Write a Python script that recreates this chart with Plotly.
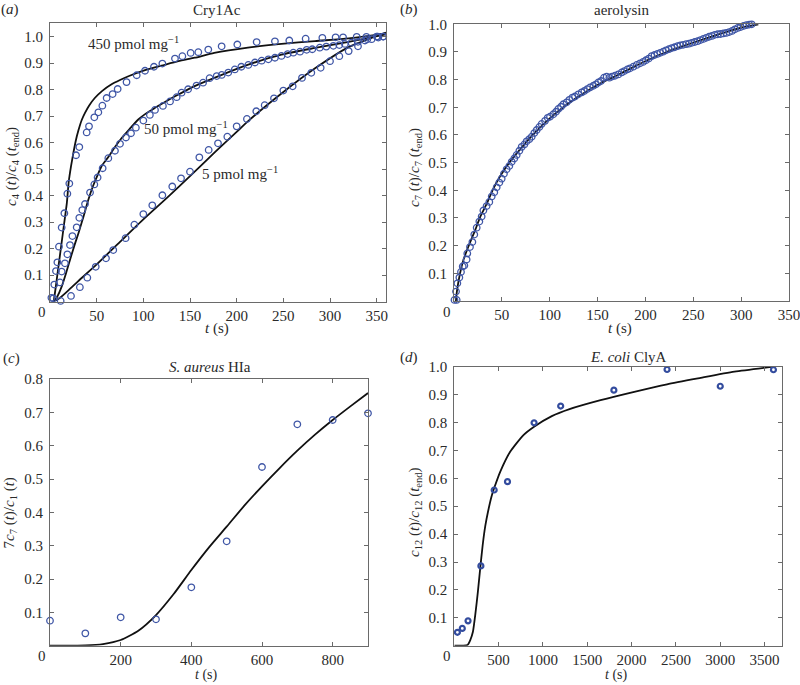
import plotly.graph_objects as go

W, H = 800, 685
FONT = "Liberation Serif, Times New Roman, Times, serif"
BLUE = "#3f56a6"
LINE = "#111111"
FRAME = "#6a6a6a"
TXT = "#2a2a2a"

# ---------------- panel (a) Cry1Ac ----------------
a450_t = [1.5, 4.6, 6.4, 7.9, 9.6, 12.5, 15.4, 18.6, 20.7, 27.9, 31.4, 39.3, 41.8, 47.5, 51.8,
          56.1, 60.7, 67.1, 72.5, 82, 92.9, 101.8, 111.4, 120.4, 133.9, 141.8, 150.7, 158.9,
          169.6, 183.9, 200.7, 221.4, 241, 256.4, 273.9, 291.8, 306, 314, 328.6, 339, 351, 357]
a450_v = [0.014, 0.064, 0.115, 0.148, 0.207, 0.279, 0.333, 0.407, 0.445, 0.552, 0.583, 0.638,
          0.661, 0.695, 0.714, 0.739, 0.768, 0.783, 0.802, 0.828, 0.854, 0.871, 0.886, 0.898,
          0.917, 0.926, 0.938, 0.941, 0.951, 0.963, 0.970, 0.979, 0.982, 0.985, 0.992, 0.995,
          0.997, 0.997, 0.999, 0.999, 1.0, 1.0]
a50_t = [3.5, 10.7, 12.5, 16, 18.6, 21.4, 24, 28.6, 31.4, 34.6, 37.5, 42.9, 47.5, 51, 56.4,
         62.5, 69.6, 75, 81.4, 86.8, 92, 100, 107, 112.5, 121, 128.6, 135.7, 141, 148, 157,
         164, 171, 178.6, 184, 191, 198, 205, 212.5, 219.6, 226.8, 234, 241, 248, 254.6,
         260.7, 267.9, 275, 281, 289, 296, 303.6, 310, 316, 323, 330, 337.5, 344.6, 351.8, 357]
a50_v = [0.012, 0.072, 0.113, 0.144, 0.178, 0.213, 0.247, 0.280, 0.316, 0.345, 0.368, 0.411,
         0.442, 0.468, 0.503, 0.541, 0.569, 0.595, 0.619, 0.635, 0.656, 0.683, 0.704, 0.723,
         0.738, 0.755, 0.771, 0.788, 0.801, 0.815, 0.826, 0.843, 0.851, 0.855, 0.864, 0.876,
         0.886, 0.893, 0.902, 0.909, 0.914, 0.920, 0.927, 0.934, 0.939, 0.943, 0.950, 0.952,
         0.958, 0.962, 0.965, 0.968, 0.972, 0.977, 0.980, 0.985, 0.990, 0.996, 1.0]
a5_t = [11.4, 22.5, 32, 40, 49, 60, 67.8, 81, 90.4, 100, 109.6, 120.4, 131, 140.4, 150, 160,
        170, 180, 190, 200, 211, 221, 230, 240, 250, 260, 270, 280, 290, 300, 310, 320, 330,
        340, 350]
a5_v = [0.002, 0.021, 0.054, 0.090, 0.131, 0.163, 0.194, 0.239, 0.290, 0.330, 0.363, 0.401,
        0.434, 0.465, 0.490, 0.544, 0.572, 0.597, 0.622, 0.661, 0.689, 0.718, 0.741, 0.767,
        0.796, 0.812, 0.844, 0.863, 0.882, 0.907, 0.926, 0.945, 0.963, 0.990, 1.0]

fit450_t = [4, 6, 9, 12, 15, 18, 20, 22.5, 25, 27.5, 30.4, 34, 37.5, 42, 48, 56, 66, 75, 84,
            101.8, 119.6, 137.5, 155, 176, 212, 248, 284, 320, 360]
fit450_v = [0, 0.05, 0.131, 0.21, 0.29, 0.37, 0.45, 0.51, 0.56, 0.605, 0.645, 0.685, 0.712,
            0.74, 0.768, 0.795, 0.82, 0.836, 0.85, 0.873, 0.89, 0.907, 0.92, 0.938, 0.958,
            0.972, 0.983, 0.993, 1.012]
fit50_t = [4, 8, 12.5, 17, 21.4, 26, 30.4, 35, 41, 46, 51.8, 56, 62.5, 70, 76.8, 85, 94.6,
           103, 112.5, 125, 137.5, 155, 176.8, 212.5, 248, 284, 320, 360]
fit50_v = [0, 0.02, 0.056, 0.105, 0.157, 0.21, 0.257, 0.31, 0.383, 0.435, 0.484, 0.515,
           0.545, 0.585, 0.617, 0.65, 0.687, 0.71, 0.731, 0.757, 0.781, 0.813, 0.845, 0.894,
           0.932, 0.957, 0.98, 1.008]
fit5_t = [4, 10, 20, 30, 50, 75, 100, 125, 150, 177, 200, 212, 248, 284, 320, 360]
fit5_v = [0, 0.012, 0.043, 0.076, 0.14, 0.225, 0.31, 0.39, 0.473, 0.565, 0.64, 0.68, 0.785,
          0.88, 0.96, 1.015]

# ---------------- panel (b) aerolysin ----------------
b_t = [0.5, 2.8, 2.1, 3.5, 5.6, 7.3, 9.1, 10.8, 13.2, 13.9, 16.7, 19.2, 21.2, 23.7, 26.5,
       28.9, 30.7, 34.1, 36.9, 39.4, 42.1, 44.6, 47.4, 49.8, 52.2, 55, 57.8, 60.3, 63, 65.5,
       68.3, 70.7, 73.5, 75.9, 78.7, 81.2, 83.9, 86.4, 89.2, 91.6, 95.1, 97.9, 100.3, 103.8,
       106.6, 109, 111.8, 114.2, 117.7, 120.5, 123.7, 126.4, 129.9, 133.4, 136.2, 139.3,
       142.1, 145.6, 148.4, 150.8, 153.6, 156.7, 159.5, 162.3, 165.1, 168.2, 171.7, 175.2,
       178, 181.1, 183.9, 187.4, 190.9, 194.4,
       197.5, 200.5, 203.5, 206.5, 209.5, 212.5, 215.5, 218.5, 221.5, 224.5, 227.5, 230.5,
       233.5, 236.5, 239.5, 242.5, 245.5, 248.5, 251.5, 254.5, 257.5, 260.5, 263.5, 266.5,
       269.5, 272.5, 275.5, 278.5, 281.5, 284.5, 287.5, 290.5, 293.5, 296.5, 299.5, 302.5,
       305.5, 308.5, 311]
b_v = [0.004, 0.004, 0.034, 0.064, 0.085, 0.105, 0.125, 0.128, 0.150, 0.172, 0.195, 0.213,
       0.240, 0.265, 0.287, 0.305, 0.327, 0.343, 0.358, 0.378, 0.393, 0.411, 0.428, 0.442,
       0.460, 0.476, 0.488, 0.503, 0.515, 0.528, 0.543, 0.557, 0.566, 0.577, 0.585, 0.594,
       0.607, 0.618, 0.629, 0.640, 0.651, 0.662, 0.666, 0.675, 0.684, 0.694, 0.702, 0.711,
       0.718, 0.727, 0.735, 0.739, 0.747, 0.754, 0.759, 0.766, 0.772, 0.778, 0.783, 0.790,
       0.795, 0.807, 0.811, 0.807, 0.811, 0.814, 0.819, 0.826, 0.831, 0.837, 0.841, 0.847,
       0.853, 0.859,
       0.864, 0.870, 0.876, 0.885, 0.889, 0.893, 0.897, 0.901, 0.906, 0.910, 0.914, 0.917,
       0.921, 0.924, 0.926, 0.928, 0.930, 0.933, 0.936, 0.939, 0.943, 0.947, 0.951, 0.955,
       0.958, 0.962, 0.964, 0.965, 0.967, 0.969, 0.972, 0.976, 0.982, 0.987, 0.990, 0.994,
       0.997, 0.999, 1.0]
fitb_t = [2, 3, 6.3, 10, 16, 22, 27.5, 34, 41, 48, 60, 72, 85, 100, 118, 135, 155, 170, 187,
          203, 222, 240, 257, 273, 292, 307, 318]
fitb_v = [0.0, 0.034, 0.1, 0.15, 0.205, 0.255, 0.305, 0.35, 0.405, 0.45, 0.51, 0.56, 0.61,
          0.66, 0.71, 0.75, 0.79, 0.815, 0.845, 0.872, 0.9, 0.922, 0.942, 0.96, 0.98, 0.993, 1.0]

# ---------------- panel (c) S. aureus HIa ----------------
c_t = [0, 100, 200, 300, 400, 500, 600, 700, 800, 900]
c_v = [0.075, 0.037, 0.085, 0.079, 0.175, 0.313, 0.536, 0.664, 0.677, 0.697]
fitc_t = [0, 100, 150, 200, 250, 300, 350, 400, 450, 500, 550, 600, 650, 700, 750, 800, 850, 900]
fitc_v = [0, 0.001, 0.005, 0.017, 0.045, 0.092, 0.155, 0.227, 0.295, 0.357, 0.42, 0.478,
          0.533, 0.585, 0.633, 0.677, 0.718, 0.758]

# ---------------- panel (d) E. coli ClyA ----------------
d_t = [35, 90, 155, 300, 450, 600, 900, 1200, 1800, 2400, 3000, 3600]
d_v = [0.048, 0.062, 0.089, 0.286, 0.558, 0.588, 0.799, 0.859, 0.916, 0.990, 0.930, 0.989]
fitd_t = [0, 100, 150, 180, 210, 240, 265, 290, 320, 350, 380, 420, 450, 520, 630, 780, 900,
          1100, 1300, 1650, 2030, 2400, 2780, 3160, 3600]
fitd_v = [0, 0, 0.003, 0.02, 0.05, 0.12, 0.19, 0.27, 0.36, 0.43, 0.48, 0.535, 0.565, 0.625,
          0.695, 0.755, 0.785, 0.823, 0.848, 0.88, 0.91, 0.937, 0.96, 0.982, 1.0]

# tick labels
a_xticks = [50, 100, 150, 200, 250, 300, 350]
b_xticks = [50, 100, 150, 200, 250, 300, 350]
c_xticks = [200, 400, 600, 800]
d_xticks = [500, 1000, 1500, 2000, 2500, 3000, 3500]
y10 = [0.1, 0.2, 0.3, 0.4, 0.5, 0.6, 0.7, 0.8, 0.9, 1.0]
y08 = [0.1, 0.2, 0.3, 0.4, 0.5, 0.6, 0.7, 0.8]

fig = go.Figure()


def px_x(p):
    return p / W


def px_y(p):
    return 1 - p / H


def add_pts(t, v, ax, size=6.5, lw=1.3, color=BLUE):
    fig.add_trace(go.Scatter(x=t, y=v, mode="markers", xaxis="x" + ax, yaxis="y" + ax,
                             cliponaxis=False,
                             marker=dict(symbol="circle-open", size=size, color=color,
                                         line=dict(width=lw, color=color)),
                             showlegend=False, hoverinfo="skip"))


def add_fit(t, v, ax):
    fig.add_trace(go.Scatter(x=t, y=v, mode="lines", xaxis="x" + ax, yaxis="y" + ax,
                             line=dict(color=LINE, width=1.8, shape="spline", smoothing=0.6),
                             showlegend=False, hoverinfo="skip"))


for t, v in [(fit450_t, fit450_v), (fit50_t, fit50_v), (fit5_t, fit5_v)]:
    add_fit(t, v, "")
for t, v in [(a450_t, a450_v), (a50_t, a50_v), (a5_t, a5_v)]:
    add_pts(t, v, "")
add_fit(fitb_t, fitb_v, "2")
add_pts(b_t, b_v, "2")
add_fit(fitc_t, fitc_v, "3")
add_pts(c_t, c_v, "3")
add_fit(fitd_t, fitd_v, "4")
add_pts(d_t, d_v, "4", size=5, lw=2.2, color="#334c9e")

tickfont = dict(family=FONT, size=15, color=TXT)


def xax(dom, rng, ticks, anchor):
    return dict(domain=dom, range=rng, tickvals=ticks, ticktext=[str(t) for t in ticks],
                ticks="inside", ticklen=4, tickcolor=FRAME, showline=True, linecolor=FRAME,
                linewidth=1, mirror="ticks", showgrid=False, zeroline=False, automargin=False,
                tickfont=tickfont, anchor=anchor, ticklabelstandoff=0,
                ticklabeloverflow="allow")


def yax(dom, rng, ticks, anchor):
    return dict(domain=dom, range=rng, tickvals=ticks, ticktext=["%.1f" % t for t in ticks],
                ticks="inside", ticklen=4, tickcolor=FRAME, showline=True, linecolor=FRAME,
                linewidth=1, mirror="ticks", showgrid=False, zeroline=False, automargin=False,
                tickfont=tickfont, anchor=anchor, ticklabelstandoff=3,
                ticklabeloverflow="allow")


fig.update_layout(
    width=W, height=H, margin=dict(l=0, r=0, t=0, b=0, autoexpand=False),
    paper_bgcolor="white", plot_bgcolor="white",
    font=dict(family=FONT, color=TXT),
    xaxis=xax([px_x(50), px_x(386)], [0, 360], a_xticks, "y"),
    yaxis=yax([px_y(301.5), px_y(23.3)], [0, 1.05], y10, "x"),
    xaxis2=xax([px_x(454), px_x(789)], [0, 350], b_xticks, "y2"),
    yaxis2=yax([px_y(301), px_y(24.3)], [0, 1.0], y10, "x2"),
    xaxis3=xax([px_x(50), px_x(368)], [0, 900], c_xticks, "y3"),
    yaxis3=yax([px_y(645.7), px_y(379)], [0, 0.8], y08, "x3"),
    xaxis4=xax([px_x(454.3), px_x(782.3)], [0, 3700], d_xticks, "y4"),
    yaxis4=yax([px_y(645.7), px_y(366.7)], [0, 1.0], y10, "x4"),
)

ann = []


def label(text, x, y, size=15, angle=0, xanchor="center", yanchor="middle", color=TXT):
    ann.append(dict(text=text, x=px_x(x), y=px_y(y), xref="paper", yref="paper",
                    showarrow=False, xanchor=xanchor, yanchor=yanchor, textangle=angle,
                    font=dict(family=FONT, size=size, color=color)))


# panel letters
label("(<i>a</i>)", 10, 10)
label("(<i>b</i>)", 409, 10)
label("(<i>c</i>)", 11, 358)
label("(<i>d</i>)", 409, 357)
# titles
label("Cry1Ac", 217, 10)
label("aerolysin", 621.5, 10)
label("<i>S. aureus</i> HIa", 210, 367)
label("<i>E. coli</i> ClyA", 628, 357)
# x titles
label("<i>t</i> (s)", 217.5, 328)
label("<i>t</i> (s)", 620, 328)
label("<i>t</i> (s)", 207, 685, size=14, yanchor="bottom")
label("<i>t</i> (s)", 616.7, 685, size=14, yanchor="bottom")
# y titles
label("<i>c</i><sub>4</sub> (<i>t</i>)/<i>c</i><sub>4</sub> (<i>t</i><sub>end</sub>)", 12, 167, angle=-90)
label("<i>c</i><sub>7</sub> (<i>t</i>)/<i>c</i><sub>7</sub> (<i>t</i><sub>end</sub>)", 415, 168, angle=-90)
label("7<i>c</i><sub>7</sub> (<i>t</i>)/<i>c</i><sub>1</sub> (<i>t</i>)", 9.5, 513, angle=-90)
label("<i>c</i><sub>12</sub> (<i>t</i>)/<i>c</i><sub>12</sub> (<i>t</i><sub>end</sub>)", 415, 512, angle=-90)
# corner zeros
label("0", 41.7, 312)
label("0", 446.7, 312)
label("0", 41.7, 656)
label("0", 446.7, 656)
fig.update_layout(annotations=ann)

# curve labels in panel (a), placed in data coordinates
for txt, tx, ty in [("450 pmol mg<sup>−1</sup>", 89, 0.976),
                    ("50 pmol mg<sup>−1</sup>", 145.7, 0.655),
                    ("5 pmol mg<sup>−1</sup>", 203.6, 0.485)]:
    fig.add_annotation(text=txt, x=tx, y=ty, xref="x", yref="y", showarrow=False,
                       font=dict(family=FONT, size=15, color=TXT))

# remove the browser's default 8px page margin so the 800x685 figure fills the window
fig.write_html("out.html", config={"displayModeBar": False},
               post_script="document.body.style.margin='0px';document.body.style.overflow='hidden';")
